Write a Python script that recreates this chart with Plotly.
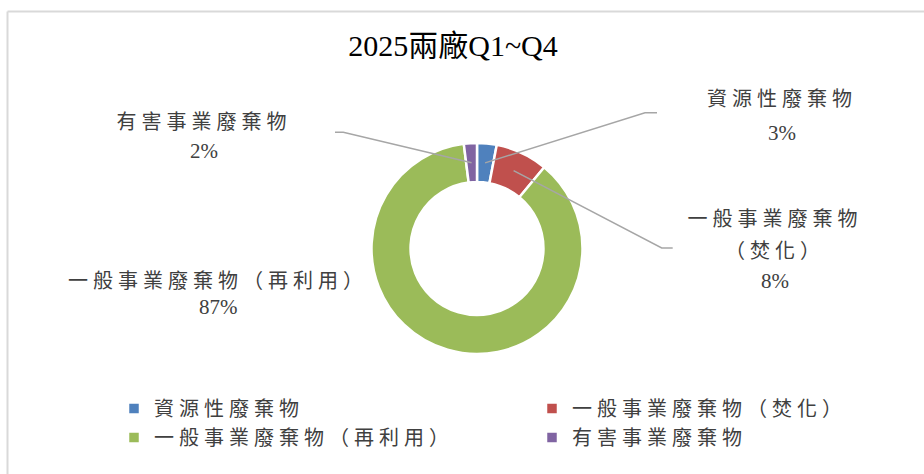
import math
import plotly.graph_objects as go

# ---- data ----
categories = ["資源性廢棄物", "一般事業廢棄物（焚化）", "一般事業廢棄物（再利用）", "有害事業廢棄物"]
values = [3, 8, 87, 2]
colors = ["#4F81BD", "#C0504D", "#9BBB59", "#8064A2"]
title_text = "2025兩廠Q1~Q4"

# label lines for each slice (name lines), percent is computed from values
label_lines = [["資源性廢棄物"], ["一般事業廢棄物", "（焚化）"], ["一般事業廢棄物（再利用）"], ["有害事業廢棄物"]]

# ---- layout geometry (pixels) ----
W, H = 924, 474
cx, cy = 477, 248.5
R = 105.5
HOLE = 0.63

def X(px):
    return px / W

def Y(py):
    return 1 - py / H

FONT = "Liberation Serif, Noto Sans CJK TC, serif"
TXT = "#404040"

fig = go.Figure()
fig.add_trace(go.Pie(
    labels=categories,
    values=values,
    sort=False,
    direction="clockwise",
    rotation=0,
    hole=HOLE,
    textinfo="none",
    hoverinfo="label+percent",
    marker=dict(colors=colors, line=dict(color="white", width=2.5)),
    domain=dict(x=[X(cx - R), X(cx + R)], y=[Y(cy + R), Y(cy - R)]),
    showlegend=True,
))

# label placement (pixel positions of label line centres) and leader elbows
label_pos = [
    dict(x=782, ys=[99], py=133, elbow=(645, 112.7), end=(657, 112.7)),
    dict(x=775, ys=[219, 251], py=281, elbow=(661.7, 248), end=(672.7, 248)),
    dict(x=218, ys=[281], py=307, elbow=None, end=None),
    dict(x=204, ys=[122], py=151, elbow=(343.3, 132.3), end=(335, 132.3)),
]

total = sum(values)
annotations = []
shapes = []
cum = 0
rmid = R * (1 + HOLE) / 2
for i, v in enumerate(values):
    mid = (cum + v / 2) / total * 2 * math.pi
    cum += v
    lp = label_pos[i]
    for line, yy in zip(label_lines[i], lp["ys"]):
        annotations.append(dict(x=X(lp["x"]), y=Y(yy), xref="paper", yref="paper",
                                text=line, showarrow=False, xanchor="center", yanchor="middle",
                                font=dict(family=FONT, size=20, color=TXT)))
    annotations.append(dict(x=X(lp["x"]), y=Y(lp["py"]), xref="paper", yref="paper",
                            text=f"{round(v / total * 100)}%", showarrow=False,
                            xanchor="center", yanchor="middle",
                            font=dict(family=FONT, size=21, color=TXT)))
    if lp["elbow"] is not None:
        sx = cx + rmid * math.sin(mid)
        sy = cy - rmid * math.cos(mid)
        ex, ey = lp["elbow"]
        fx, fy = lp["end"]
        path = f"M {X(sx)},{Y(sy)} L {X(ex)},{Y(ey)} L {X(fx)},{Y(fy)}"
        shapes.append(dict(type="path", xref="paper", yref="paper", path=path,
                           line=dict(color="#A6A6A6", width=1.5), layer="above"))

# chart border (top and left edges visible)
shapes.append(dict(type="line", xref="paper", yref="paper", x0=X(7.5), x1=X(W + 10),
                   y0=Y(11.5), y1=Y(11.5), line=dict(color="#D9D9D9", width=2)))
shapes.append(dict(type="line", xref="paper", yref="paper", x0=X(7.5), x1=X(7.5),
                   y0=Y(11.5), y1=Y(H + 10), line=dict(color="#D9D9D9", width=2)))

fig.update_layout(
    width=W, height=H,
    margin=dict(l=0, r=0, t=0, b=0, autoexpand=False),
    paper_bgcolor="white",
    plot_bgcolor="white",
    title=dict(text=title_text, x=X(453), xanchor="center", y=Y(45), yanchor="middle",
               font=dict(family=FONT, size=30, color="#000000")),
    legend=dict(orientation="h", traceorder="normal", x=X(114), xanchor="left",
                y=Y(389), yanchor="top",
                entrywidth=373, entrywidthmode="pixels",
                font=dict(family=FONT, size=20, color=TXT),
                bgcolor="rgba(0,0,0,0)"),
    annotations=annotations,
    shapes=shapes,
)

post = """
document.body.style.margin = '0';
document.body.style.overflow = 'hidden';
var gd = document.getElementById('{plot_id}');
function sp(){
  gd.querySelectorAll('.legendtext').forEach(function(t){t.style.letterSpacing='5px';});
  gd.querySelectorAll('.annotation-text').forEach(function(t){
    if(/[\\u4e00-\\u9fff]/.test(t.textContent)) t.style.letterSpacing='5px';
  });
}
sp();
gd.on('plotly_afterplot', sp);
"""

fig.write_html("out.html", post_script=post, config={"displayModeBar": False})
